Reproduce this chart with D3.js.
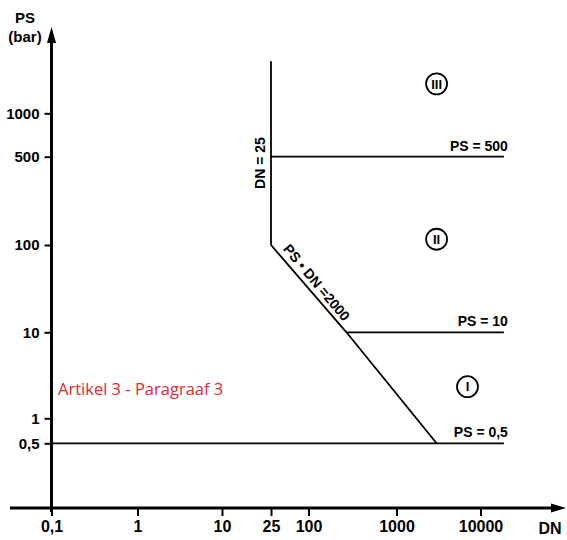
<!DOCTYPE html>
<html><head><meta charset="utf-8">
<script src="https://cdn.jsdelivr.net/npm/d3@7"></script>
<style>body{margin:0;background:#fff}svg{display:block}</style></head>
<body><svg id="c" width="567" height="540"></svg>
<script>
// ---------- data ----------
const xTickValues = [0.1, 1, 10, 25, 100, 1000, 10000];
const xTickLabels = ["0,1", "1", "10", "25", "100", "1000", "10000"];
const yTickValues = [0.5, 1, 10, 100, 500, 1000];
const yTickLabels = ["0,5", "1", "10", "100", "500", "1000"];
const boundaryDN25 = [[25, 2300], [25, 100]];
const boundaryPSDN = [[25, 100], [270, 10], [3000, 0.5]];
const boundaryPS500 = [[25, 500], [19000, 500]];
const boundaryPS10 = [[270, 10], [19000, 10]];
const boundaryPS05 = [[0.1, 0.5], [19000, 0.5]];
const categories = ["III", "II", "I"];
const categoryDN = [3000, 3000, 7000];
const categoryPS = [1600, 111, 2.33];
const psLabels = ["PS = 500", "PS = 10", "PS = 0,5"];
const noteText = "Artikel 3 - Paragraaf 3";

// ---------- layout (schematic, non-uniform axes) ----------
const xOrigin = 51.5, yOrigin = 508;
const xTickPx = [51.5, 137.5, 222, 271, 308.5, 396.5, 480.5];
const yTickPx = [443.3, 418.3, 332.3, 245, 156.7, 113.3];

const svg = d3.select("#c");
const lg = Math.log10;
const xs = d3.scaleLinear().domain(xTickValues.map(lg)).range(xTickPx);
const ys = d3.scaleLinear().domain([0.1, ...yTickValues].map(lg)).range([yOrigin, ...yTickPx]);
const X = v => xs(lg(v)), Y = v => ys(lg(v));
const bold = "'Liberation Sans', Arial, Helvetica, sans-serif";

// x axis ticks
const gx = svg.append("g").attr("transform", `translate(0,${yOrigin})`)
  .call(d3.axisBottom(xs).tickValues(xTickValues.map(lg))
    .tickFormat((d, i) => xTickLabels[i]).tickSize(8).tickSizeOuter(0).tickPadding(5));
gx.select(".domain").remove();
gx.selectAll("line").attr("stroke", "#000").attr("stroke-width", 2);
gx.selectAll("text").attr("font-family", bold).attr("font-weight", "bold").attr("font-size", 16).attr("fill", "#000");

// y axis ticks
const gy = svg.append("g").attr("transform", `translate(${xOrigin},0)`)
  .call(d3.axisLeft(ys).tickValues(yTickValues.map(lg))
    .tickFormat((d, i) => yTickLabels[i]).tickSize(7).tickSizeOuter(0).tickPadding(5));
gy.select(".domain").remove();
gy.selectAll("line").attr("stroke", "#000").attr("stroke-width", 2);
gy.selectAll("text").attr("font-family", bold).attr("font-weight", "bold").attr("font-size", 15).attr("fill", "#000");

// axis lines with arrows
svg.append("line").attr("x1", xOrigin).attr("x2", xOrigin).attr("y1", yOrigin + 4).attr("y2", 36)
  .attr("stroke", "#000").attr("stroke-width", 3);
svg.append("path").attr("d", `M${xOrigin},27 L${xOrigin - 4.5},43 L${xOrigin + 4.5},43 Z`).attr("fill", "#000");
svg.append("line").attr("x1", 10).attr("x2", 556).attr("y1", yOrigin).attr("y2", yOrigin)
  .attr("stroke", "#000").attr("stroke-width", 3);
svg.append("path").attr("d", `M566,${yOrigin} L551,${yOrigin - 4.5} L551,${yOrigin + 4.5} Z`).attr("fill", "#000");

// axis titles
svg.append("text").attr("x", 25).attr("y", 23).attr("text-anchor", "middle")
  .attr("font-family", bold).attr("font-weight", "bold").attr("font-size", 15).text("PS");
svg.append("text").attr("x", 25).attr("y", 42).attr("text-anchor", "middle")
  .attr("font-family", bold).attr("font-weight", "bold").attr("font-size", 15).text("(bar)");
svg.append("text").attr("x", 550).attr("y", 534).attr("text-anchor", "middle")
  .attr("font-family", bold).attr("font-weight", "bold").attr("font-size", 16).text("DN");

// boundary lines
const line = d3.line().x(d => X(d[0])).y(d => Y(d[1]));
[boundaryDN25, boundaryPSDN, boundaryPS500, boundaryPS10, boundaryPS05].forEach(b => {
  svg.append("path").attr("d", line(b)).attr("fill", "none").attr("stroke", "#000")
    .attr("stroke-width", 1.8).attr("stroke-linejoin", "miter");
});

// PS labels at right ends
const psLines = [boundaryPS500, boundaryPS10, boundaryPS05];
psLines.forEach((b, i) => {
  const e = b[b.length - 1];
  svg.append("text").attr("x", X(e[0]) + 4).attr("y", Y(e[1]) - 6).attr("text-anchor", "end")
    .attr("font-family", bold).attr("font-weight", "bold").attr("font-size", 14).text(psLabels[i]);
});

// DN = 25 label (vertical)
{
  const lx = X(boundaryDN25[0][0]) - 6, ly = 163;
  svg.append("text").attr("transform", `translate(${lx},${ly}) rotate(-90)`).attr("text-anchor", "middle")
    .attr("font-family", bold).attr("font-weight", "bold").attr("font-size", 14).text("DN = 25");
}

// PS • DN = 2000 label along diagonal
{
  const p0 = [X(boundaryPSDN[0][0]), Y(boundaryPSDN[0][1])];
  const p1 = [X(boundaryPSDN[2][0]), Y(boundaryPSDN[2][1])];
  const ang = Math.atan2(p1[1] - p0[1], p1[0] - p0[0]);
  const ux = Math.cos(ang), uy = Math.sin(ang);
  const nx = uy, ny = -ux; // up-right normal
  const along = 58, off = 6;
  const cx = p0[0] + ux * along + nx * off, cy = p0[1] + uy * along + ny * off;
  svg.append("text").attr("transform", `translate(${cx},${cy}) rotate(${ang * 180 / Math.PI})`)
    .attr("text-anchor", "middle").attr("font-family", bold).attr("font-weight", "bold")
    .attr("font-size", 14).text("PS \u2022 DN =2000");
}

// category markers (circled roman numerals)
categories.forEach((c, i) => {
  const cx = X(categoryDN[i]), cy = Y(categoryPS[i]);
  svg.append("circle").attr("cx", cx).attr("cy", cy).attr("r", 10.5).attr("fill", "none")
    .attr("stroke", "#000").attr("stroke-width", 1.8);
  svg.append("text").attr("x", cx).attr("y", cy).attr("dy", "0.36em").attr("text-anchor", "middle")
    .attr("font-family", bold).attr("font-weight", "bold").attr("font-size", 13).text(c);
});

// red note
svg.append("text").attr("x", 58).attr("y", 395).attr("fill", "#e5262d")
  .attr("font-family", "'Open Sans', Lato, sans-serif").attr("font-size", 16.5).text(noteText);
</script></body></html>
